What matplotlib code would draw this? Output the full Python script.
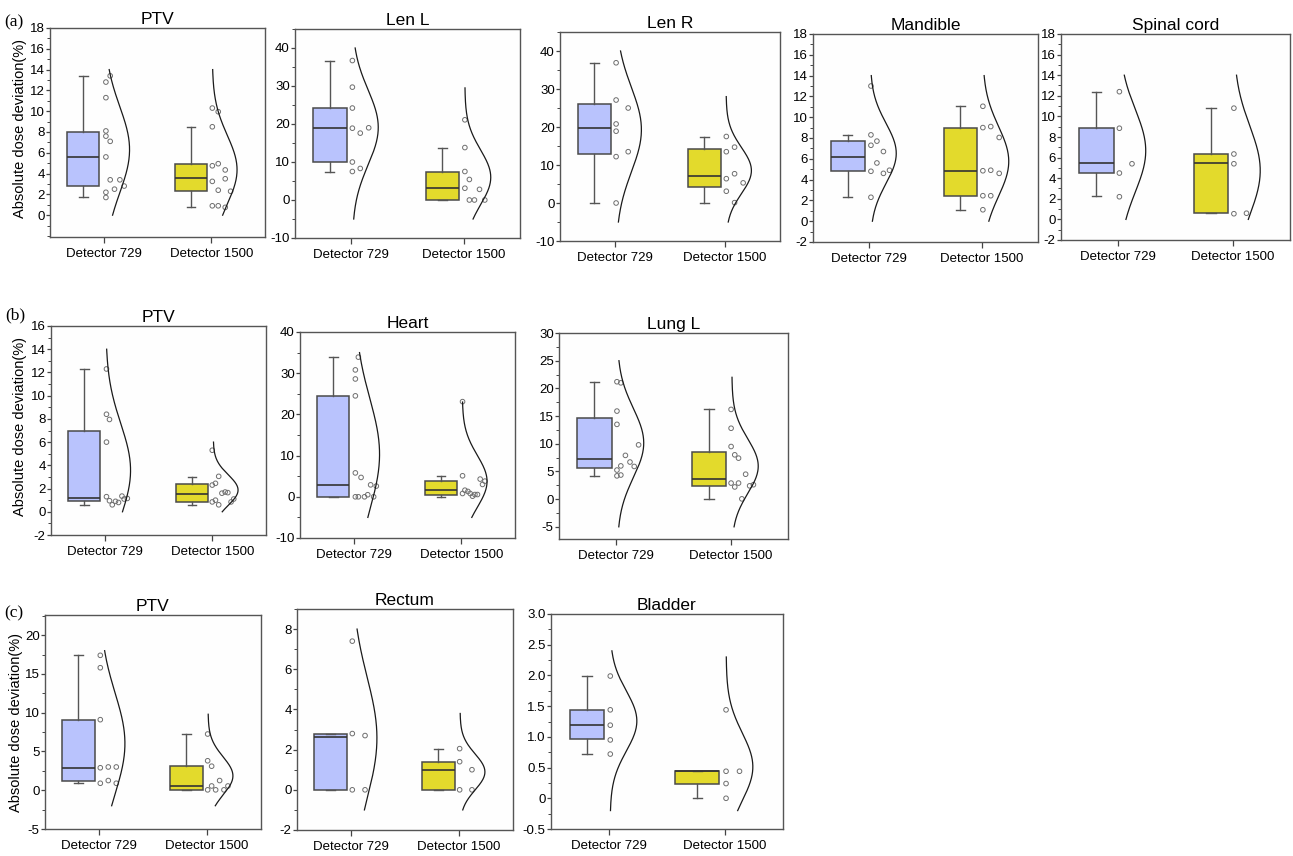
import numpy as np
import matplotlib

matplotlib.use("Agg")
import matplotlib.pyplot as plt
from matplotlib.ticker import FixedLocator, MultipleLocator

plt.rcParams["font.family"] = ["Liberation Sans", "DejaVu Sans"]

# --------------------------------------------------------------------------- #
# Data: box stats are [whisker low, q1, median, q3, whisker high]
# --------------------------------------------------------------------------- #
groups = ["Detector 729", "Detector 1500"]
titles = ["PTV", "Len L", "Len R", "Mandible", "Spinal cord",
          "PTV", "Heart", "Lung L",
          "PTV", "Rectum", "Bladder"]

# (a) head & neck
ptv_a_729_box = [1.7, 2.85, 5.6, 8.0, 13.4]
ptv_a_729_pts = [13.4, 12.8, 11.3, 8.1, 7.6, 7.1, 5.6, 3.4, 3.4, 2.8, 2.5, 2.2, 1.7]
ptv_a_1500_box = [0.75, 2.35, 3.55, 4.95, 8.5]
ptv_a_1500_pts = [10.3, 9.95, 8.5, 4.75, 4.95, 4.35, 3.25, 3.5, 2.4, 2.3, 0.9, 0.9, 0.75]

lenl_729_box = [7.5, 10.0, 18.9, 24.2, 36.7]
lenl_729_pts = [36.7, 29.7, 24.2, 18.9, 17.6, 19.0, 10.0, 7.5, 8.3]
lenl_1500_box = [0.0, 0.0, 3.05, 7.4, 13.8]
lenl_1500_pts = [21.1, 13.8, 7.5, 5.4, 3.1, 2.8, 0.0, 0.0, 0.0]

lenr_729_box = [0.0, 12.8, 19.8, 26.0, 36.9]
lenr_729_pts = [36.9, 27.1, 25.0, 20.8, 18.9, 12.2, 13.5, 0.0]
lenr_1500_box = [0.0, 4.2, 7.1, 14.1, 17.5]
lenr_1500_pts = [17.5, 14.7, 13.5, 7.7, 6.4, 5.3, 3.1, 0.1]

mand_729_box = [2.3, 4.8, 6.15, 7.7, 8.3]
mand_729_pts = [13.0, 8.3, 7.3, 7.7, 6.7, 5.6, 4.8, 4.6, 4.9, 2.3]
mand_1500_box = [1.1, 2.45, 4.85, 9.0, 11.05]
mand_1500_pts = [11.05, 9.0, 9.1, 8.05, 4.85, 4.9, 4.6, 2.45, 2.45, 1.1]

cord_729_box = [2.25, 4.5, 5.45, 8.85, 12.4]
cord_729_pts = [12.4, 8.85, 5.4, 4.5, 2.2]
cord_1500_box = [0.6, 0.6, 5.45, 6.35, 10.8]
cord_1500_pts = [10.8, 6.35, 5.4, 0.55, 0.6]

# (b) thorax
ptv_b_729_box = [0.6, 0.95, 1.2, 6.95, 12.3]
ptv_b_729_pts = [12.3, 8.4, 7.95, 6.0, 1.3, 0.95, 0.6, 0.9, 0.8, 1.35, 1.1, 1.15]
ptv_b_1500_box = [0.6, 0.85, 1.55, 2.35, 3.0]
ptv_b_1500_pts = [5.3, 2.3, 2.45, 3.05, 0.85, 1.0, 0.6, 1.6, 1.7, 1.65, 0.85, 1.1]

heart_729_box = [0.0, 0.0, 2.9, 24.4, 33.9]
heart_729_pts = [33.9, 30.8, 28.6, 24.5, 5.8, 4.7, 0.0, 0.0, 0.0, 0.5, 2.9, 0.0, 2.6]
heart_1500_box = [0.0, 0.4, 1.55, 3.8, 5.1]
heart_1500_pts = [23.1, 5.1, 0.8, 1.6, 1.3, 0.8, 0.15, 0.55, 0.55, 4.3, 3.0, 3.8]

lung_729_box = [4.2, 5.55, 7.25, 14.7, 21.2]
lung_729_pts = [21.2, 21.0, 15.9, 13.5, 7.9, 9.8, 6.0, 6.7, 5.9, 5.25, 4.2, 4.35]
lung_1500_box = [0.0, 2.45, 3.7, 8.55, 16.2]
lung_1500_pts = [16.2, 12.8, 9.5, 8.0, 7.4, 4.5, 2.9, 2.9, 2.2, 2.4, 2.6, 0.05]

# (c) pelvis
ptv_c_729_box = [0.9, 1.2, 2.9, 9.1, 17.4]
ptv_c_729_pts = [17.4, 15.8, 9.1, 2.9, 3.0, 3.0, 0.9, 1.25, 0.9]
ptv_c_1500_box = [0.0, 0.0, 0.55, 3.1, 7.3]
ptv_c_1500_pts = [7.25, 3.8, 3.1, 0.05, 0.55, 0.05, 1.25, 0.05, 0.55]

rect_729_box = [0.0, 0.0, 2.65, 2.8, 2.8]
rect_729_pts = [7.4, 2.8, 2.7, 0.0, 0.0]
rect_1500_box = [0.0, 0.0, 1.0, 1.4, 2.05]
rect_1500_pts = [2.05, 1.4, 1.0, 0.0, 0.0]

blad_729_box = [0.72, 0.96, 1.2, 1.44, 1.99]
blad_729_pts = [1.99, 1.44, 1.19, 0.95, 0.72]
blad_1500_box = [0.0, 0.24, 0.44, 0.44, 0.44]
blad_1500_pts = [1.44, 0.44, 0.44, 0.24, 0.0]

# --------------------------------------------------------------------------- #
# Layout / style (not data): point x-jitter, curve extents, axes boxes
# --------------------------------------------------------------------------- #
jitter = [
    ([0.06, 0.02, 0.02, 0.02, 0.02, 0.06, 0.02, 0.06, 0.15, 0.19, 0.10, 0.02, 0.02],
     [0.01, 0.065, 0.01, 0.01, 0.065, 0.13, 0.01, 0.13, 0.065, 0.18, 0.01, 0.065, 0.13]),
    ([0.01, 0.01, 0.01, 0.01, 0.08, 0.155, 0.01, 0.01, 0.08],
     [0.01, 0.01, 0.01, 0.05, 0.01, 0.14, 0.05, 0.095, 0.187]),
    ([0.01, 0.01, 0.12, 0.01, 0.01, 0.01, 0.12, 0.01],
     [0.012, 0.087, 0.012, 0.087, 0.012, 0.165, 0.012, 0.087]),
    ([0.015, 0.015, 0.015, 0.068, 0.126, 0.068, 0.015, 0.126, 0.18, 0.015],
     [0.01, 0.01, 0.08, 0.155, 0.01, 0.08, 0.155, 0.01, 0.08, 0.01]),
    ([0.01, 0.01, 0.12, 0.01, 0.01],
     [0.01, 0.01, 0.01, 0.01, 0.12]),
    ([0.016, 0.016, 0.044, 0.016, 0.016, 0.044, 0.07, 0.1, 0.128, 0.16, 0.18, 0.21],
     [0.0, 0.0, 0.03, 0.06, 0.0, 0.03, 0.06, 0.09, 0.12, 0.145, 0.175, 0.2]),
    ([0.043, 0.015, 0.015, 0.015, 0.015, 0.068, 0.015, 0.043, 0.1, 0.13, 0.157, 0.185, 0.21],
     [0.012, 0.012, 0.012, 0.034, 0.062, 0.083, 0.105, 0.127, 0.151, 0.176, 0.198, 0.22]),
    ([0.006, 0.04, 0.006, 0.006, 0.08, 0.195, 0.04, 0.12, 0.157, 0.006, 0.006, 0.04],
     [0.003, 0.003, 0.003, 0.035, 0.068, 0.13, 0.003, 0.068, 0.035, 0.165, 0.198, 0.097]),
    ([0.012, 0.012, 0.012, 0.012, 0.086, 0.16, 0.012, 0.086, 0.16],
     [0.006, 0.006, 0.043, 0.006, 0.043, 0.08, 0.117, 0.157, 0.194]),
    ([0.012, 0.012, 0.13, 0.012, 0.13],
     [0.006, 0.006, 0.12, 0.006, 0.12]),
    ([0.011, 0.011, 0.011, 0.011, 0.011],
     [0.009, 0.009, 0.125, 0.009, 0.009]),
]

curve_span = [
    ((0, 14), (0, 14)), ((-5, 40), (-5, 29.5)), ((-5, 40), (-5, 28)),
    ((0, 14), (0, 14)), ((0, 14), (0, 14)),
    ((0, 14), (0, 6)), ((-5, 35), (-5, 23)), ((-5, 25), (-5, 22)),
    ((-2, 18), (-2, 9.8)), ((-1, 8), (-1, 3.8)), ((-0.2, 2.4), (-0.2, 2.3)),
]

# axes frames in output pixels: left, right, top, bottom
axes_px = [
    (50, 265, 28, 237), (295, 520, 29, 238), (560, 780, 32, 241),
    (813, 1038, 34, 242), (1061, 1290, 34, 240),
    (51, 266, 326, 535), (300, 515, 332, 538), (559, 788, 333, 539),
    (45, 261, 615, 829), (297, 513, 609, 830), (551, 783, 614, 829),
]

# y axis: (ylim, major ticks, tick labels or None, minor step)
yaxes = [
    ((-2.1, 18), np.arange(0, 19, 2), None, 1),
    ((-10, 45), np.arange(-10, 41, 10), None, 5),
    ((-10, 45), np.arange(-10, 41, 10), None, 5),
    ((-2, 18), np.arange(-2, 19, 2), None, 1),
    ((-2, 18), np.arange(-2, 19, 2), None, 1),
    ((-2, 16), np.arange(-2, 17, 2), None, 1),
    ((-10, 40), np.arange(-10, 41, 10), None, 5),
    ((-7.2, 30), np.arange(-5, 31, 5), None, 2.5),
    ((-5, 22.6), np.arange(-5, 21, 5), None, 2.5),
    ((-2, 9), np.arange(-2, 9, 2), None, 1),
    ((-0.5, 3.0), np.arange(-0.5, 3.01, 0.5),
     ["-0.5", "0", "0.5", "1.0", "1.5", "2.0", "2.5", "3.0"], 0.25),
]

panels = [
    (ptv_a_729_box, ptv_a_729_pts, ptv_a_1500_box, ptv_a_1500_pts),
    (lenl_729_box, lenl_729_pts, lenl_1500_box, lenl_1500_pts),
    (lenr_729_box, lenr_729_pts, lenr_1500_box, lenr_1500_pts),
    (mand_729_box, mand_729_pts, mand_1500_box, mand_1500_pts),
    (cord_729_box, cord_729_pts, cord_1500_box, cord_1500_pts),
    (ptv_b_729_box, ptv_b_729_pts, ptv_b_1500_box, ptv_b_1500_pts),
    (heart_729_box, heart_729_pts, heart_1500_box, heart_1500_pts),
    (lung_729_box, lung_729_pts, lung_1500_box, lung_1500_pts),
    (ptv_c_729_box, ptv_c_729_pts, ptv_c_1500_box, ptv_c_1500_pts),
    (rect_729_box, rect_729_pts, rect_1500_box, rect_1500_pts),
    (blad_729_box, blad_729_pts, blad_1500_box, blad_1500_pts),
]

FILLS = ["#b9c3fd", "#e3da2c"]
EDGE = "#4a4a4a"
W, H = 1293, 856

fig = plt.figure(figsize=(W / 100, H / 100), dpi=100)
fig.patch.set_facecolor("white")


def draw_group(ax, pos, box, pts, dx, span, fill, width=0.30, shift=-0.19):
    lo, q1, med, q3, hi = box
    stats = [dict(whislo=lo, q1=q1, med=med, q3=q3, whishi=hi, fliers=[])]
    ax.bxp(stats, positions=[pos + shift], widths=width, patch_artist=True,
           showfliers=False, capwidths=0.08, manage_ticks=False,
           boxprops=dict(facecolor=fill, edgecolor=EDGE, linewidth=1.1),
           medianprops=dict(color="#333333", linewidth=1.2),
           whiskerprops=dict(color="#555555", linewidth=1.0),
           capprops=dict(color="#555555", linewidth=1.0))
    ax.scatter(pos + np.asarray(dx), pts, s=11, facecolors="none",
               edgecolors="#6e6e6e", linewidths=0.7, zorder=3)
    # sideways normal curve from the points' mean / sd
    mu, sd = np.mean(pts), np.std(pts, ddof=1)
    y = np.linspace(span[0], span[1], 200)
    x = pos + 0.01 + 0.23 * np.exp(-0.5 * ((y - mu) / sd) ** 2)
    ax.plot(x, y, color="#1a1a1a", linewidth=0.9, zorder=3)


for i, (b1, p1, b2, p2) in enumerate(panels):
    left, right, top, bottom = axes_px[i]
    ax = fig.add_axes((left / W, 1 - bottom / H, (right - left) / W, (bottom - top) / H))
    ax.set_facecolor("#fefefe")

    draw_group(ax, 1, b1, p1, jitter[i][0], curve_span[i][0], FILLS[0])
    if i == 10:  # bladder 1500 box is drawn wider in the original
        draw_group(ax, 2, b2, p2, jitter[i][1], curve_span[i][1], FILLS[1], 0.38, -0.24)
    else:
        draw_group(ax, 2, b2, p2, jitter[i][1], curve_span[i][1], FILLS[1])

    ax.set_xlim(0.5, 2.5)
    ax.set_xticks([1, 2])
    ax.set_xticklabels(groups, fontsize=9.5)

    ylim, major, labels, minor = yaxes[i]
    ax.set_ylim(*ylim)
    ax.yaxis.set_major_locator(FixedLocator(major))
    if labels is not None:
        ax.set_yticklabels(labels)
    else:
        ax.set_yticklabels([f"{v:g}" for v in major])
    ax.yaxis.set_minor_locator(MultipleLocator(minor))
    ax.tick_params(axis="y", labelsize=9.5, direction="out", length=3,
                   width=0.9, color="#444444", pad=0.8)
    ax.tick_params(axis="y", which="minor", direction="out", length=2,
                   width=0.7, color="#444444")
    ax.tick_params(axis="x", direction="out", length=4, width=0.9,
                   color="#444444", pad=4)
    for sp in ax.spines.values():
        sp.set_color("#555555")
        sp.set_linewidth(1.0)

    ax.set_title(titles[i], fontsize=12.5, pad=3)

# row labels and shared y-axis labels
for txt, x, y in [("(a)", 4, 22), ("(b)", 5, 315), ("(c)", 4, 613)]:
    fig.text(x / W, 1 - y / H, txt, fontsize=12.5, family="Liberation Serif",
             va="center", ha="left")
for x, y in [(20, 128), (20, 427), (16, 722)]:
    fig.text(x / W, 1 - y / H, "Absolute dose deviation(%)", fontsize=10.5,
             rotation=90, va="center", ha="center")

fig.savefig("out.png", dpi=100)
